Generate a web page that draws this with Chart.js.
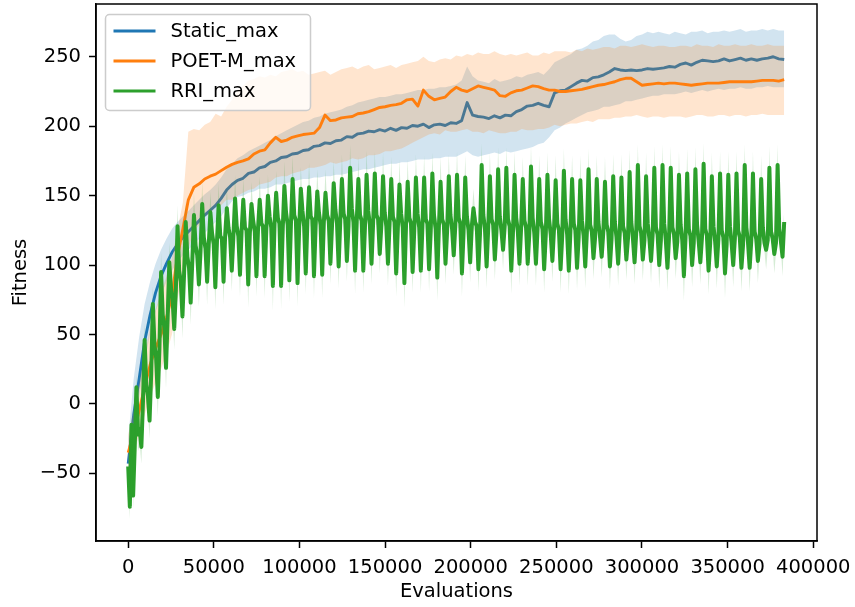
<!DOCTYPE html>
<html>
<head>
<meta charset="utf-8">
<script src="https://cdn.jsdelivr.net/npm/chart.js@4.4.1/dist/chart.umd.min.js"></script>
<style>
  html, body { margin: 0; padding: 0; background: #ffffff; }
  #chart { display: block; }
</style>
</head>
<body>
<canvas id="chart" width="855" height="607" style="width:855px;height:607px"></canvas>
<script>
// ---- axis ticks ----
const X_TICKS = [0, 50000, 100000, 150000, 200000, 250000, 300000, 350000, 400000];
const Y_TICKS = [-50, 0, 50, 100, 150, 200, 250];

// ---- logging intervals (evaluations between recorded points) ----
const STATIC_POET_STEP = 3192;
const RRI_STEP = 960;

// ---- Static_max: mean curve and band edges ----
const STATIC_MEAN = [
  -43, -8, 18, 45, 64, 80, 92, 101, 109, 115,
  120, 124, 128, 132, 136, 139.5, 143, 148, 154, 158,
  161, 162.5, 166, 167, 170, 171, 174, 175, 177.5, 178,
  180, 180.5, 182.5, 183, 185.5, 186, 188, 187.5, 189.5, 190,
  192.5, 192, 194.5, 195, 196.5, 196, 197.5, 196.5, 198.5, 197,
  199, 198.5, 200.5, 200, 201.5, 199, 201, 201.5, 200.5, 202.5,
  202, 204, 217, 208, 207, 206.5, 205.5, 207.5, 206, 208,
  207.5, 210.5, 212, 214.5, 215, 216.5, 215, 214, 224, 225.5,
  226, 228.5, 231, 233, 232.5, 235, 235.5, 237, 239, 241.5,
  240.5, 240, 240.5, 240, 240.5, 241.5, 241, 241.5, 242, 243,
  242.5, 244.5, 245.5, 244, 246, 247.5, 247, 246.5, 247, 248.5,
  247, 248, 249, 247.5, 248.5, 247.5, 248.5, 249, 250, 248.5, 248
];
const STATIC_UPPER = [
  -25, 18, 48, 72, 88, 101, 111, 119, 126, 131,
  135, 139, 143, 147, 151, 154, 158, 163, 169, 173,
  177, 179, 182, 184, 186, 188, 190, 193, 195, 197,
  199, 201, 203, 204, 206, 207, 209, 210, 211, 212,
  214, 215, 217, 218, 219, 220, 221, 221, 222, 223,
  223, 224, 225, 226, 226, 227, 227, 228, 228, 229,
  230, 233, 243, 236, 233, 232, 231, 234, 232, 233,
  234, 236, 235, 237, 238, 239, 237, 241, 246, 248,
  250, 252, 255, 256, 258, 261, 262, 265, 266, 266,
  263, 261, 262, 265, 266, 268, 267, 268, 267, 266,
  268, 267, 266, 268, 268, 269, 267, 268, 268, 269,
  268, 269, 270, 268, 269, 269, 270, 269, 270, 269, 269
];
const STATIC_LOWER = [
  -50, -20, 5, 30, 50, 66, 78, 88, 96, 102,
  107, 111, 115, 119, 123, 127, 131, 135, 141, 146,
  149, 150, 152, 153, 155, 155, 156, 158, 158, 159,
  160, 161, 162, 162, 163, 163, 164, 164, 165, 165,
  166, 167, 168, 169, 169, 170, 171, 172, 173, 173,
  174, 174, 175, 176, 176, 176, 177, 177, 178, 178,
  178, 180, 182, 179, 178, 179, 180, 181, 180, 182,
  181, 182, 183, 184, 185, 187, 188, 192, 197, 199,
  202, 204, 206, 208, 210, 211, 212, 214, 214, 215,
  216, 218, 218, 219, 220, 221, 222, 222, 223, 223,
  223, 224, 225, 224, 225, 226, 225, 226, 227, 226,
  227, 227, 228, 227, 227, 228, 228, 229, 228, 228, 228
];

// ---- POET-M_max: mean curve and band edges ----
const POET_MEAN = [
  -35, -21, -5, 12, 28, 40, 50, 62, 78, 106,
  126, 147, 156, 158.5, 162, 164, 165.5, 168, 170.5, 172.5,
  174, 175, 176.5, 180, 182, 183, 188, 192, 189, 190,
  192, 193, 194, 194.5, 195, 199, 208, 204, 204.5, 206,
  206.5, 207, 209, 209.5, 210.5, 212, 213.5, 214, 215, 215.5,
  216.5, 219, 219.5, 214.5, 226, 221.5, 219, 220, 221, 225,
  228, 226, 225, 227, 229, 228, 227, 226, 222, 221.5,
  224, 225.5, 226, 227.5, 229, 228.5, 227, 226, 226, 225,
  225, 225.5, 226, 226.5, 227.5, 228.5, 229.5, 230, 231, 232,
  233.5, 234.5, 234.5, 232, 229.5, 230, 230.5, 231, 230.5, 231,
  231, 230.5, 230, 229.5, 230, 230.5, 231, 231, 231, 231.5,
  232, 232, 232, 232, 232, 232.5, 233, 233, 233, 232.5, 233.5
];
const POET_UPPER = [
  -22, -5, 15, 35, 55, 68, 80, 92, 105, 125,
  145, 196, 198, 197, 201, 203, 209, 207, 214, 219,
  226, 229, 233, 234, 236, 235, 237, 236, 239, 240,
  241, 239, 240, 237, 238, 239, 240, 237, 239, 241,
  242, 243, 241, 243, 244, 241, 242, 243, 244, 242,
  244, 245, 246, 247, 250, 247, 246, 248, 249, 248,
  251, 250, 252, 251, 253, 252, 252, 254, 252, 251,
  252, 251, 252, 253, 251, 251, 253, 252, 254, 254,
  254, 253, 255, 254, 256, 255, 256, 257, 257, 256,
  258, 258, 257, 258, 259, 258, 257, 258, 258, 257,
  257, 258, 258, 257, 259, 258, 258, 257, 259, 258,
  258, 259, 258, 258, 259, 258, 258, 259, 258, 258, 258
];
const POET_LOWER = [
  -48, -35, -22, -8, 5, 15, 25, 36, 50, 75,
  95, 112, 124, 129, 135, 137, 142, 143, 147, 147,
  150, 152, 154, 155, 158, 159, 160, 163, 164, 164,
  166, 167, 168, 170, 170, 171, 172, 174, 173, 174,
  175, 177, 176, 177, 179, 179, 180, 182, 182, 183,
  184, 186, 188, 190, 192, 194, 195, 194, 197, 196,
  196, 197, 198, 196, 196, 195, 197, 196, 195, 195,
  196, 196, 198, 197, 197, 198, 198, 199, 201, 200,
  201, 202, 202, 203, 204, 203, 205, 205, 205, 206,
  206, 207, 207, 208, 207, 206, 207, 207, 206, 207,
  207, 207, 206, 207, 208, 208, 207, 207, 208, 208,
  207, 208, 208, 207, 208, 208, 209, 208, 208, 208, 208
];

// ---- RRI_max: one row per cycle [peak, after peak, before drop, trough, recovery] ----
const RRI_MEAN = [
  [-45, -74, -15, -66, -30], [12, -22, -18, -31, 2], [46, 14, 6, -12, 22], [72, 42, 33, 5, 40],
  [95, 64, 55, 26, 62], [102, 84, 75, 54, 82], [128, 96, 88, 63, 94], [131, 106, 98, 73, 103],
  [136, 114, 107, 86, 110], [144, 120, 112, 88, 115], [138, 123, 115, 84, 117], [143, 121, 119, 88, 122],
  [141, 127, 120, 96, 121], [148, 128, 121, 93, 125], [147, 127, 125, 86, 123], [144, 132, 124, 92, 127],
  [147, 130, 128, 92, 125], [150, 135, 127, 85, 129], [152, 134, 130, 85, 126], [157, 138, 129, 89, 130],
  [162, 136, 132, 87, 127], [155, 139, 128, 94, 131], [156, 135, 133, 92, 128], [153, 138, 129, 93, 131],
  [152, 136, 132, 101, 129], [159, 140, 130, 99, 132], [162, 137, 133, 103, 128], [170, 141, 131, 96, 131],
  [162, 136, 132, 96, 127], [165, 139, 129, 101, 131], [166, 136, 133, 108, 129], [164, 138, 128, 101, 130],
  [162, 135, 131, 94, 126], [158, 137, 127, 87, 129], [160, 134, 130, 95, 125], [163, 137, 127, 96, 129],
  [163, 133, 130, 97, 124], [166, 136, 126, 91, 128], [160, 133, 129, 101, 125], [164, 136, 126, 107, 129],
  [165, 134, 130, 94, 124], [163, 135, 125, 102, 128], [141, 131, 128, 97, 123], [172, 136, 126, 99, 127],
  [164, 133, 129, 104, 124], [169, 135, 125, 111, 128], [170, 133, 128, 96, 122], [165, 134, 124, 101, 127],
  [162, 132, 127, 101, 123], [171, 134, 123, 101, 126], [162, 131, 126, 97, 122], [165, 133, 122, 103, 126],
  [161, 130, 125, 97, 121], [168, 133, 122, 96, 125], [162, 130, 125, 98, 120], [161, 132, 121, 99, 124],
  [169, 129, 124, 105, 120], [162, 131, 120, 106, 124], [160, 129, 124, 99, 119], [164, 131, 120, 101, 123],
  [163, 128, 123, 104, 119], [167, 131, 119, 102, 123], [172, 128, 123, 104, 118], [164, 130, 119, 103, 122],
  [170, 127, 122, 100, 118], [172, 130, 118, 98, 121], [170, 127, 122, 105, 117], [165, 129, 118, 92, 120],
  [166, 126, 121, 100, 116], [169, 129, 117, 102, 120], [173, 126, 121, 96, 116], [164, 128, 117, 99, 119],
  [166, 125, 120, 94, 115], [165, 128, 116, 100, 119], [166, 125, 120, 98, 115], [172, 127, 116, 98, 118],
  [166, 124, 119, 103, 115], [162, 127, 116, 111, 118], [170, 124, 119, 108, 116], [172, 126, 117, 106, 131]
];
// spread of the RRI runs around the mean, same layout as RRI_MEAN
const RRI_SPREAD = [
  [8, 9, 10, 9, 10], [10, 12, 11, 12, 11], [12, 12, 11, 13, 12], [13, 12, 11, 14, 12],
  [14, 11, 10, 15, 11], [14, 10, 9, 15, 10], [15, 9, 8, 16, 9], [15, 8, 7, 16, 8],
  [16, 8, 7, 16, 8], [16, 7, 6, 17, 7], [15, 7, 6, 16, 7], [16, 7, 6, 17, 7],
  [15, 7, 6, 15, 7], [17, 7, 6, 16, 7], [15, 7, 6, 17, 7], [16, 7, 6, 15, 7],
  [17, 7, 6, 16, 7], [15, 7, 6, 18, 7], [16, 7, 6, 17, 7], [18, 7, 6, 16, 7],
  [17, 7, 6, 17, 7], [16, 7, 6, 15, 7], [18, 7, 6, 16, 7], [16, 7, 6, 17, 7],
  [17, 7, 6, 15, 7], [16, 7, 6, 16, 7], [18, 7, 6, 15, 7], [17, 7, 6, 17, 7],
  [16, 7, 6, 16, 7], [18, 7, 6, 15, 7], [16, 7, 6, 14, 7], [17, 7, 6, 16, 7],
  [16, 7, 6, 17, 7], [18, 7, 6, 18, 7], [16, 7, 6, 15, 7], [17, 7, 6, 16, 7],
  [16, 7, 6, 16, 7], [15, 7, 6, 17, 7], [18, 7, 6, 15, 7], [16, 7, 6, 14, 7],
  [17, 7, 6, 17, 7], [16, 7, 6, 15, 7], [14, 7, 6, 16, 7], [16, 7, 6, 16, 7],
  [17, 7, 6, 15, 7], [16, 7, 6, 14, 7], [15, 7, 6, 17, 7], [17, 7, 6, 16, 7],
  [16, 7, 6, 16, 7], [15, 7, 6, 16, 7], [17, 7, 6, 17, 7], [16, 7, 6, 15, 7],
  [18, 7, 6, 17, 7], [16, 7, 6, 17, 7], [17, 7, 6, 16, 7], [18, 7, 6, 16, 7],
  [15, 7, 6, 15, 7], [17, 7, 6, 15, 7], [18, 7, 6, 17, 7], [16, 7, 6, 16, 7],
  [17, 7, 6, 15, 7], [16, 7, 6, 16, 7], [15, 7, 6, 15, 7], [17, 7, 6, 16, 7],
  [16, 7, 6, 17, 7], [15, 7, 6, 17, 7], [16, 7, 6, 15, 7], [17, 7, 6, 18, 7],
  [18, 7, 6, 16, 7], [16, 7, 6, 16, 7], [15, 7, 6, 17, 7], [17, 7, 6, 16, 7],
  [16, 7, 6, 18, 7], [17, 7, 6, 16, 7], [16, 7, 6, 17, 7], [15, 7, 6, 17, 7],
  [16, 7, 6, 16, 7], [17, 7, 6, 14, 7], [16, 7, 6, 14, 7], [15, 7, 6, 14, 8]
];

// ---- series colours ----
const C_STATIC = '#1f77b4';
const C_POET = '#ff7f0e';
const C_RRI = '#2ca02c';

const FONT_FAMILY = "'DejaVu Sans', sans-serif";
const FONT_SIZE = 19.5;
const LEGEND_LINE_WIDTH = 2.9;

function points(values, step) {
  return values.map((y, i) => ({ x: i * step, y }));
}

const rriMean = RRI_MEAN.flat();
const rriSpread = RRI_SPREAD.flat();
const rriUpper = rriMean.map((v, i) => v + rriSpread[i]);
const rriLower = rriMean.map((v, i) => v - rriSpread[i]);

function lineSet(label, values, step, color, width, order) {
  return {
    label, data: points(values, step), borderColor: color, backgroundColor: color,
    borderWidth: width, pointRadius: 0, fill: false, order, inLegend: true,
    borderJoinStyle: 'round', borderCapStyle: 'butt'
  };
}
function edgeSet(values, step, fillColor, fillTarget, order) {
  return {
    label: '', data: points(values, step), borderWidth: 0, borderColor: 'rgba(0,0,0,0)',
    pointRadius: 0, backgroundColor: fillColor, fill: fillTarget, order, inLegend: false
  };
}

const datasets = [
  lineSet('Static_max', STATIC_MEAN, STATIC_POET_STEP, C_STATIC, 2.9, 6),
  edgeSet(STATIC_UPPER, STATIC_POET_STEP, 'rgba(31,119,180,0.2)', '+1', 5),
  edgeSet(STATIC_LOWER, STATIC_POET_STEP, 'rgba(0,0,0,0)', false, 5),
  lineSet('POET-M_max', POET_MEAN, STATIC_POET_STEP, C_POET, 2.9, 4),
  edgeSet(POET_UPPER, STATIC_POET_STEP, 'rgba(255,127,14,0.2)', '+1', 3),
  edgeSet(POET_LOWER, STATIC_POET_STEP, 'rgba(0,0,0,0)', false, 3),
  lineSet('RRI_max', rriMean, RRI_STEP, C_RRI, 4, 2),
  edgeSet(rriUpper, RRI_STEP, 'rgba(44,160,44,0.2)', '+1', 1),
  edgeSet(rriLower, RRI_STEP, 'rgba(0,0,0,0)', false, 1)
];

// closes the plot frame on the top and right
const frame = {
  id: 'frame',
  afterDatasetsDraw(chart) {
    const { ctx, chartArea: a } = chart;
    ctx.save();
    ctx.strokeStyle = '#000';
    ctx.lineWidth = 1.5;
    ctx.strokeRect(a.left, a.top, a.right - a.left, a.bottom - a.top);
    ctx.restore();
  }
};

// legend box in the upper-left corner of the plot
const cornerLegend = {
  id: 'cornerLegend',
  afterDraw(chart) {
    const { ctx, chartArea: a } = chart;
    const items = chart.data.datasets.filter(d => d.inLegend);
    const x0 = a.left + 9.5, y0 = a.top + 10.5, w = 205, h = 96, r = 4;
    ctx.save();
    ctx.beginPath();
    ctx.moveTo(x0 + r, y0);
    ctx.lineTo(x0 + w - r, y0);
    ctx.arcTo(x0 + w, y0, x0 + w, y0 + r, r);
    ctx.lineTo(x0 + w, y0 + h - r);
    ctx.arcTo(x0 + w, y0 + h, x0 + w - r, y0 + h, r);
    ctx.lineTo(x0 + r, y0 + h);
    ctx.arcTo(x0, y0 + h, x0, y0 + h - r, r);
    ctx.lineTo(x0, y0 + r);
    ctx.arcTo(x0, y0, x0 + r, y0, r);
    ctx.closePath();
    ctx.fillStyle = 'rgba(255,255,255,0.8)';
    ctx.fill();
    ctx.strokeStyle = '#cccccc';
    ctx.lineWidth = 1.5;
    ctx.stroke();
    ctx.font = FONT_SIZE + 'px ' + FONT_FAMILY;
    ctx.textBaseline = 'middle';
    ctx.textAlign = 'left';
    items.forEach((d, i) => {
      const y = y0 + 16.5 + i * 30;
      ctx.strokeStyle = d.borderColor;
      ctx.lineWidth = LEGEND_LINE_WIDTH;
      ctx.beginPath();
      ctx.moveTo(x0 + 8, y);
      ctx.lineTo(x0 + 50, y);
      ctx.stroke();
      ctx.fillStyle = '#000';
      ctx.fillText(d.label, x0 + 65, y + 1);
    });
    ctx.restore();
  }
};

const tickFont = { family: FONT_FAMILY, size: FONT_SIZE };
const fmt = v => (v < 0 ? '\u2212' + Math.abs(v) : String(v));

new Chart(document.getElementById('chart'), {
  type: 'line',
  data: { datasets },
  options: {
    responsive: false,
    animation: false,
    devicePixelRatio: 1,
    layout: { padding: { left: 0, right: 38, top: 4, bottom: 0 } },
    plugins: { legend: { display: false }, tooltip: { enabled: false } },
    elements: { line: { tension: 0 }, point: { radius: 0 } },
    scales: {
      x: {
        type: 'linear', min: -18800, max: 402200,
        afterBuildTicks: s => { s.ticks = X_TICKS.map(v => ({ value: v })); },
        afterFit: s => { s.height = 66; s.paddingLeft = 0; s.paddingRight = 0; },
        grid: { drawOnChartArea: false, drawTicks: true, tickLength: 7, tickWidth: 1.5, tickColor: '#000' },
        border: { display: true, color: '#000', width: 1.5 },
        ticks: { color: '#000', font: tickFont, padding: 8, maxRotation: 0, autoSkip: false, callback: fmt },
        title: { display: true, text: 'Evaluations', color: '#000', font: tickFont, padding: { top: 0, bottom: 3 } }
      },
      y: {
        type: 'linear', min: -98.7, max: 288,
        afterBuildTicks: s => { s.ticks = Y_TICKS.map(v => ({ value: v })); },
        afterFit: s => { s.width = 96; s.paddingTop = 0; s.paddingBottom = 0; },
        grid: { drawOnChartArea: false, drawTicks: true, tickLength: 7, tickWidth: 1.5, tickColor: '#000' },
        border: { display: true, color: '#000', width: 1.5 },
        ticks: { color: '#000', font: tickFont, padding: 8, autoSkip: false, callback: fmt },
        title: { display: true, text: 'Fitness', color: '#000', font: tickFont, padding: { top: 9, bottom: 0 } }
      }
    }
  },
  plugins: [frame, cornerLegend]
});
</script>
</body>
</html>
